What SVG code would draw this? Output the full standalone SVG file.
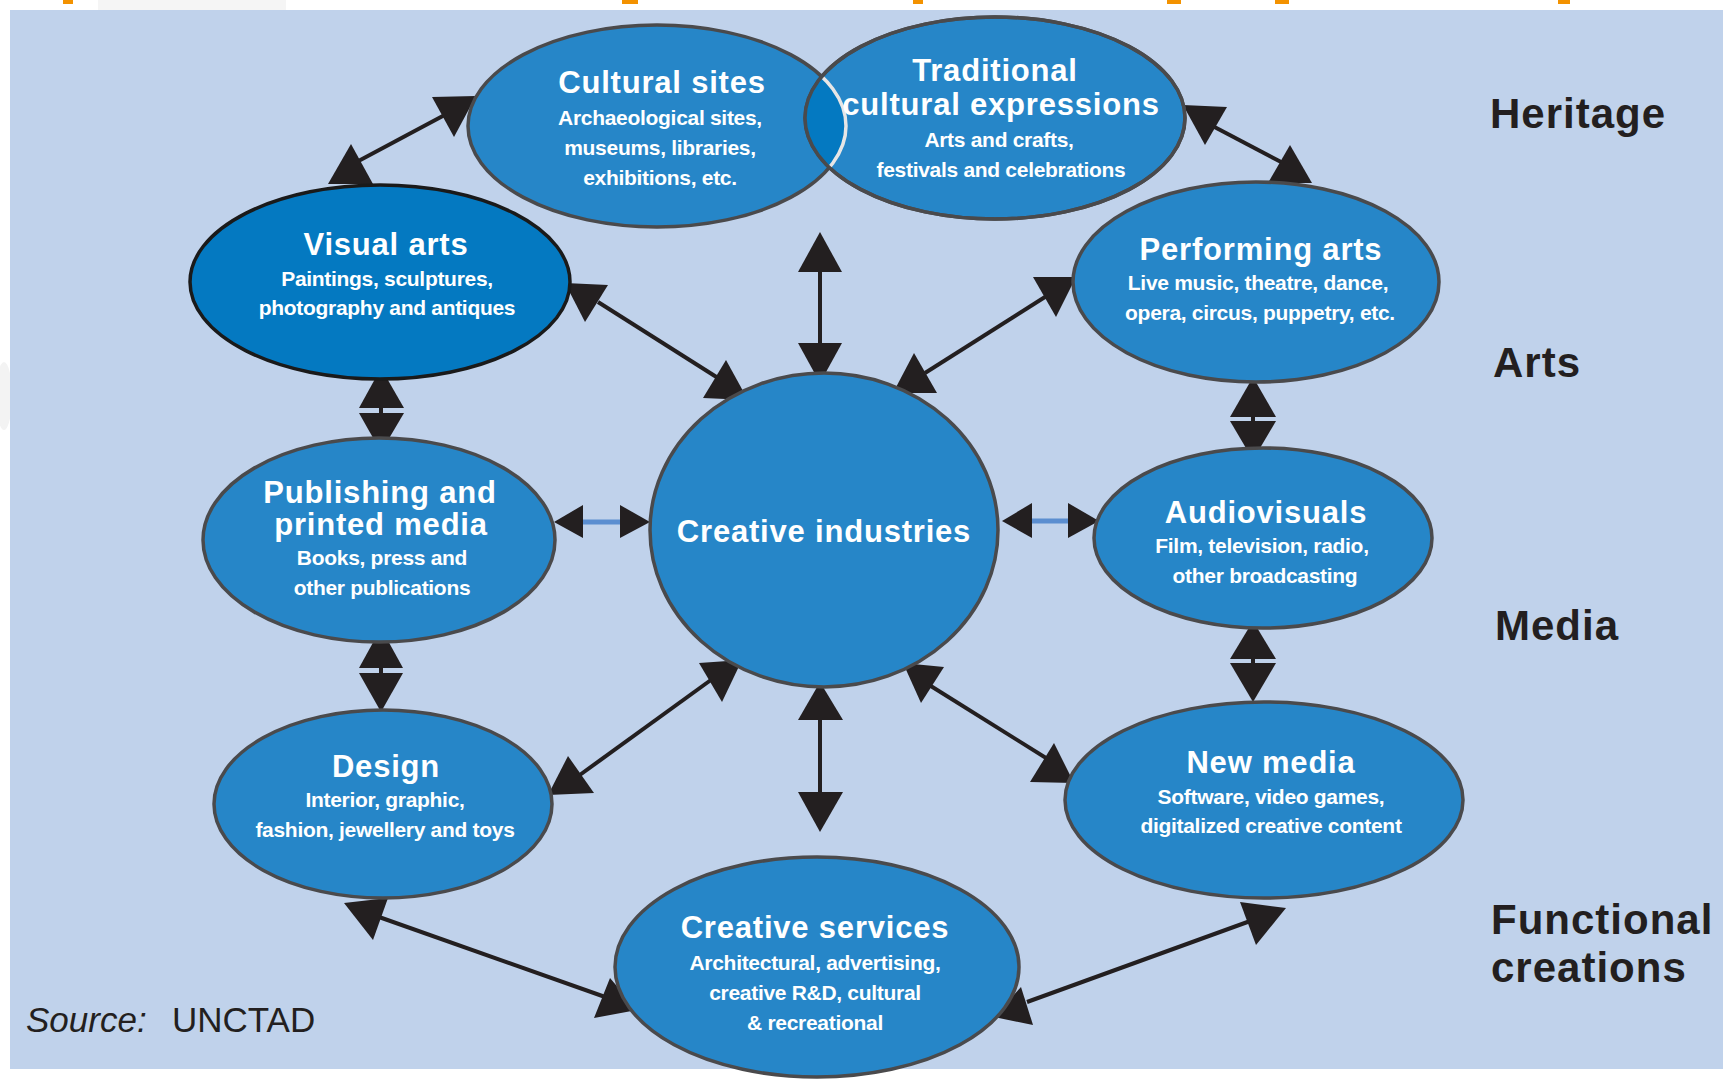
<svg xmlns="http://www.w3.org/2000/svg" width="1723" height="1079" viewBox="0 0 1723 1079">
<defs>
<style>
.node{fill:#2686C8;stroke:#4A4A4C;stroke-width:3.5}
.dark{fill:#0479C1;stroke:#1A1A1A;stroke-width:3.5}
.t{font-family:"Liberation Sans",Arial,sans-serif;font-weight:bold;fill:#FFFFFF;text-anchor:middle}
.h{font-size:31px;letter-spacing:0.8px}
.s{font-size:21px;letter-spacing:-0.3px}
.cat{font-family:"Liberation Sans",Arial,sans-serif;font-weight:bold;font-size:42px;letter-spacing:1px;fill:#231F20}
.ln{stroke:#231F20;stroke-width:4;fill:none}
.bl{stroke:#5B8ED0;stroke-width:5;fill:none}
.ah{fill:#231F20}
</style>
<clipPath id="tradClip"><ellipse cx="995" cy="118" rx="190" ry="101"/></clipPath>
</defs>
<rect x="0" y="0" width="1723" height="1079" fill="#FFFFFF"/>
<rect x="98" y="0" width="188" height="10" fill="#F5F5F5"/>
<ellipse cx="4" cy="396" rx="8" ry="34" fill="#F3F3F3"/>
<g fill="#F39200">
<rect x="63" y="0" width="10" height="4"/>
<rect x="622" y="0" width="16" height="4"/>
<rect x="913" y="0" width="10" height="4"/>
<rect x="1167" y="0" width="14" height="4"/>
<rect x="1275" y="0" width="14" height="4"/>
<rect x="1558" y="0" width="12" height="4"/>
</g>
<rect x="10" y="10" width="1713" height="1059" fill="#C0D2EB"/>

<g id="connectors">
<line class="ln" x1="351" y1="165" x2="454" y2="110"/>
<polygon class="ah" points="351,144 373,184 328,184"/>
<polygon class="ah" points="432,97 476,96 454,137"/>
<line class="ln" x1="1205" y1="122" x2="1283" y2="163"/>
<polygon class="ah" points="1183,105 1227,107 1205,145"/>
<polygon class="ah" points="1290,145 1312,183 1268,183"/>
<line class="ln" x1="598" y1="302" x2="718" y2="378"/>
<polygon class="ah" points="565,283 608,285 585,322"/>
<polygon class="ah" points="726,360 748,400 703,398"/>
<line class="ln" x1="820" y1="250" x2="820" y2="365"/>
<polygon class="ah" points="820,232 842,272 798,272"/>
<polygon class="ah" points="798,343 842,343 820,383"/>
<line class="ln" x1="925" y1="373" x2="1056" y2="290"/>
<polygon class="ah" points="1033,277 1076,277 1056,317"/>
<polygon class="ah" points="914,353 937,393 893,393"/>
<line class="ln" x1="1253" y1="395" x2="1253" y2="440"/>
<polygon class="ah" points="1253,377 1276,417 1230,417"/>
<polygon class="ah" points="1230,421 1276,421 1253,460"/>
<line class="ln" x1="381" y1="390" x2="381" y2="430"/>
<polygon class="ah" points="381,368 404,408 359,408"/>
<polygon class="ah" points="359,413 404,413 381,452"/>
<line class="bl" x1="580" y1="522" x2="623" y2="522"/>
<polygon class="ah" points="554,522 583,505 583,538"/>
<polygon class="ah" points="620,505 650,522 620,538"/>
<line class="bl" x1="1029" y1="521" x2="1071" y2="521"/>
<polygon class="ah" points="1002,521 1032,503 1032,538"/>
<polygon class="ah" points="1068,503 1099,521 1068,538"/>
<line class="ln" x1="381" y1="650" x2="381" y2="690"/>
<polygon class="ah" points="381,628 403,668 359,668"/>
<polygon class="ah" points="359,673 403,673 381,712"/>
<line class="ln" x1="1253" y1="640" x2="1253" y2="683"/>
<polygon class="ah" points="1253,621 1276,659 1230,659"/>
<polygon class="ah" points="1230,663 1276,663 1253,702"/>
<line class="ln" x1="577" y1="777" x2="715" y2="677"/>
<polygon class="ah" points="699,663 742,660 722,702"/>
<polygon class="ah" points="568,756 594,793 548,795"/>
<line class="ln" x1="820" y1="700" x2="820" y2="812"/>
<polygon class="ah" points="820,682 843,720 798,720"/>
<polygon class="ah" points="798,792 843,792 820,832"/>
<line class="ln" x1="926" y1="683" x2="1054" y2="763"/>
<polygon class="ah" points="903,663 944,667 921,703"/>
<polygon class="ah" points="1054,743 1074,783 1030,782"/>
<line class="ln" x1="379" y1="917" x2="608" y2="998"/>
<polygon class="ah" points="344,903 388,898 373,940"/>
<polygon class="ah" points="610,978 637,1010 594,1018"/>
<line class="ln" x1="1027" y1="1002" x2="1253" y2="920"/>
<polygon class="ah" points="1240,902 1286,908 1256,945"/>
<polygon class="ah" points="1021,987 1033,1025 994,1017"/>
</g>

<g id="cultural-sites">
<ellipse class="node" cx="657" cy="126" rx="189" ry="101"/>
</g>
<g id="traditional-cultural-expressions">
<ellipse class="node" cx="995" cy="118" rx="190" ry="101"/>
<g clip-path="url(#tradClip)">
<ellipse cx="657" cy="126" rx="189" ry="101" fill="#0479C1" stroke="#E6E6E6" stroke-width="3.5"/>
</g>
<ellipse cx="995" cy="118" rx="190" ry="101" fill="none" stroke="#4A4A4C" stroke-width="3.5"/>
</g>
<g id="cultural-sites-text">
<text class="t h" x="662" y="93">Cultural sites</text>
<text class="t s" x="660" y="125">Archaeological sites,</text>
<text class="t s" x="660" y="155">museums, libraries,</text>
<text class="t s" x="660" y="185">exhibitions, etc.</text>
</g>
<g id="traditional-text">
<text class="t h" x="995" y="81">Traditional</text>
<text class="t h" x="1001" y="115">cultural expressions</text>
<text class="t s" x="999" y="147">Arts and crafts,</text>
<text class="t s" x="1001" y="177">festivals and celebrations</text>
</g>

<g id="visual-arts">
<ellipse class="dark" cx="380" cy="282" rx="190" ry="97"/>
<text class="t h" x="386" y="255">Visual arts</text>
<text class="t s" x="387" y="286">Paintings, sculptures,</text>
<text class="t s" x="387" y="315">photography and antiques</text>
</g>

<g id="performing-arts">
<ellipse class="node" cx="1256" cy="282" rx="183" ry="100"/>
<text class="t h" x="1261" y="260">Performing arts</text>
<text class="t s" x="1258" y="290">Live music, theatre, dance,</text>
<text class="t s" x="1260" y="320">opera, circus, puppetry, etc.</text>
</g>

<g id="publishing">
<ellipse class="node" cx="379" cy="540" rx="176" ry="102"/>
<text class="t h" x="380" y="503">Publishing and</text>
<text class="t h" x="381" y="535">printed media</text>
<text class="t s" x="382" y="565">Books, press and</text>
<text class="t s" x="382" y="595">other publications</text>
</g>

<g id="creative-industries">
<ellipse class="node" cx="824" cy="530" rx="174" ry="157"/>
<text class="t h" x="824" y="542">Creative industries</text>
</g>

<g id="audiovisuals">
<ellipse class="node" cx="1263" cy="538" rx="169" ry="90"/>
<text class="t h" x="1266" y="523">Audiovisuals</text>
<text class="t s" x="1262" y="553">Film, television, radio,</text>
<text class="t s" x="1265" y="583">other broadcasting</text>
</g>

<g id="design">
<ellipse class="node" cx="383" cy="804" rx="169" ry="94"/>
<text class="t h" x="386" y="777">Design</text>
<text class="t s" x="385" y="807">Interior, graphic,</text>
<text class="t s" x="385" y="837">fashion, jewellery and toys</text>
</g>

<g id="new-media">
<ellipse class="node" cx="1264" cy="800" rx="199" ry="98"/>
<text class="t h" x="1271" y="773">New media</text>
<text class="t s" x="1271" y="804">Software, video games,</text>
<text class="t s" x="1271" y="833">digitalized creative content</text>
</g>

<g id="creative-services">
<ellipse class="node" cx="817" cy="967" rx="202" ry="110"/>
<text class="t h" x="815" y="938">Creative services</text>
<text class="t s" x="815" y="970">Architectural, advertising,</text>
<text class="t s" x="815" y="1000">creative R&amp;D, cultural</text>
<text class="t s" x="815" y="1030">&amp; recreational</text>
</g>

<g id="categories">
<text class="cat" x="1490" y="128">Heritage</text>
<text class="cat" x="1493" y="377">Arts</text>
<text class="cat" x="1495" y="640">Media</text>
<text class="cat" x="1491" y="934">Functional</text>
<text class="cat" x="1491" y="982">creations</text>
</g>

<g id="source" font-family="'Liberation Sans',Arial,sans-serif" font-size="35" fill="#231F20">
<text x="26" y="1032"><tspan font-style="italic">Source:</tspan></text>
<text x="172" y="1032">UNCTAD</text>
</g>
</svg>
